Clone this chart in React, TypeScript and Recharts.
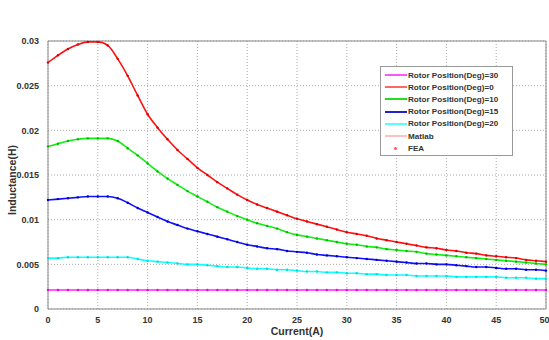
import React from 'react';
import { LineChart, Line, XAxis, YAxis, CartesianGrid, Legend, ReferenceLine } from 'recharts';

const current = [0,1,2,3,4,5,6,7,8,9,10,11,12,13,14,15,16,17,18,19,20,21,22,23,24,25,26,27,28,29,30,31,32,33,34,35,36,37,38,39,40,41,42,43,44,45,46,47,48,49,50];

const deg0 = [0.0276,0.0284,0.0291,0.0296,0.0299,0.0299,0.0295,0.0280,0.0261,0.0239,0.0218,0.0203,0.0190,0.0178,0.0168,0.0158,0.0150,0.0142,0.0135,0.0128,0.0122,0.0117,0.0113,0.0109,0.0105,0.0101,0.0098,0.0095,0.0092,0.0089,0.0086,0.0084,0.0082,0.0079,0.0077,0.0075,0.0073,0.0071,0.0069,0.0068,0.0066,0.0065,0.0063,0.0062,0.0060,0.0059,0.0058,0.0057,0.0055,0.0054,0.0053];

const deg10 = [0.0182,0.0185,0.0188,0.0190,0.0191,0.0191,0.0191,0.0188,0.0180,0.0172,0.0163,0.0154,0.0146,0.0139,0.0132,0.0126,0.0120,0.0114,0.0109,0.0104,0.0100,0.0096,0.0093,0.0090,0.0086,0.0083,0.0081,0.0079,0.0077,0.0075,0.0073,0.0072,0.0070,0.0069,0.0067,0.0066,0.0065,0.0064,0.0062,0.0061,0.0060,0.0059,0.0058,0.0057,0.0056,0.0055,0.0054,0.0053,0.0052,0.0051,0.0050];

const deg15 = [0.0122,0.0123,0.0124,0.0125,0.0126,0.0126,0.0126,0.0124,0.0119,0.0113,0.0108,0.0103,0.0098,0.0094,0.0090,0.0087,0.0084,0.0081,0.0078,0.0075,0.0072,0.0070,0.0068,0.0067,0.0065,0.0064,0.0063,0.0061,0.0060,0.0059,0.0058,0.0057,0.0056,0.0055,0.0054,0.0053,0.0052,0.0051,0.0051,0.0050,0.0050,0.0049,0.0048,0.0047,0.0047,0.0046,0.0045,0.0045,0.0044,0.0044,0.0043];

const deg20 = [0.0057,0.0057,0.0058,0.0058,0.0058,0.0058,0.0058,0.0058,0.0058,0.0056,0.0054,0.0053,0.0052,0.0051,0.0050,0.0050,0.0049,0.0048,0.0047,0.0047,0.0046,0.0045,0.0045,0.0044,0.0044,0.0043,0.0042,0.0042,0.0041,0.0041,0.0040,0.0040,0.0039,0.0039,0.0038,0.0038,0.0038,0.0037,0.0037,0.0037,0.0037,0.0036,0.0036,0.0036,0.0036,0.0036,0.0035,0.0035,0.0035,0.0034,0.0034];

const deg30 = [0.00213,0.00213,0.00213,0.00213,0.00213,0.00213,0.00213,0.00213,0.00213,0.00213,0.00213,0.00213,0.00213,0.00213,0.00213,0.00213,0.00213,0.00213,0.00213,0.00213,0.00213,0.00213,0.00213,0.00213,0.00213,0.00213,0.00213,0.00213,0.00213,0.00213,0.00213,0.00213,0.00213,0.00213,0.00213,0.00213,0.00213,0.00213,0.00213,0.00213,0.00213,0.00213,0.00213,0.00213,0.00213,0.00213,0.00213,0.00213,0.00213,0.00213,0.00213];

const xTicks = [0,5,10,15,20,25,30,35,40,45,50];
const yTicks = [0,0.005,0.01,0.015,0.02,0.025,0.03];

const legendItems = [
  { label: 'Rotor Position(Deg)=30', color: '#ff55ff', kind: 'line' },
  { label: 'Rotor Position(Deg)=0', color: '#ff6666', kind: 'line' },
  { label: 'Rotor Position(Deg)=10', color: '#22dd22', kind: 'line' },
  { label: 'Rotor Position(Deg)=15', color: '#2222cc', kind: 'line' },
  { label: 'Rotor Position(Deg)=20', color: '#55ffff', kind: 'line' },
  { label: 'Matlab', color: '#ffc0c0', kind: 'line' },
  { label: 'FEA', color: '#ff5555', kind: 'dot' },
];

const data = current.map((c, i) => ({
  x: c,
  d30: deg30[i],
  d0: deg0[i],
  d10: deg10[i],
  d15: deg15[i],
  d20: deg20[i],
}));

const font = '"Liberation Sans", Arial, sans-serif';

const LegendBox = () => (
  <div
    style={{
      width: 131,
      height: 86,
      background: '#fff',
      border: '1px solid #999',
      fontFamily: font,
      fontWeight: 'bold',
      fontSize: 8.1,
      color: '#333',
      boxSizing: 'content-box',
      paddingTop: 2,
    }}
  >
    {legendItems.map((it) => (
      <div key={it.label} style={{ display: 'flex', alignItems: 'center', height: 12.2, whiteSpace: 'nowrap' }}>
        <div style={{ width: 27, display: 'flex', justifyContent: 'center', alignItems: 'center' }}>
          {it.kind === 'line' ? (
            <div style={{ width: 22, height: 2, background: it.color, marginLeft: 2 }} />
          ) : (
            <div style={{ width: 3, height: 3, borderRadius: 2, background: it.color, marginLeft: 2 }} />
          )}
        </div>
        <span>{it.label}</span>
      </div>
    ))}
  </div>
);

const series = [
  { key: 'd30', color: '#ff22ff', dot: '#ee00ee' },
  { key: 'd0', color: '#ff1111', dot: '#dd0000' },
  { key: 'd10', color: '#11ee11', dot: '#00bb00' },
  { key: 'd15', color: '#1111ff', dot: '#0000cc' },
  { key: 'd20', color: '#11ffff', dot: '#00dddd' },
];

export default function App() {
  return (
    <div style={{ position: 'absolute', left: 0, top: 0, width: 549, height: 340, background: '#fff' }}>
      <LineChart width={549} height={340} data={data} margin={{ top: 41, right: 3, bottom: 6, left: 8 }}>
        <CartesianGrid stroke="#aaa" strokeDasharray="1 2" />
        <XAxis
          dataKey="x"
          type="number"
          domain={[0, 50]}
          ticks={xTicks}
          height={25}
          stroke="#888"
          tickLine={false}
          tick={{ fill: '#333', fontSize: 9, fontWeight: 'bold', fontFamily: font }}
          tickMargin={2}
          label={{ value: 'Current(A)', position: 'insideBottom', offset: -1, fill: '#333', fontSize: 10.5, fontWeight: 'bold', fontFamily: font }}
        />
        <YAxis
          type="number"
          domain={[0, 0.03]}
          ticks={yTicks}
          width={40}
          stroke="#888"
          tickLine={false}
          tick={{ fill: '#333', fontSize: 9, fontWeight: 'bold', fontFamily: font }}
          tickMargin={3}
          label={{ value: 'Inductance(H)', angle: -90, position: 'insideLeft', offset: 4, dy: 40, fill: '#333', fontSize: 10.5, fontWeight: 'bold', fontFamily: font }}
        />
        <ReferenceLine y={0.03} stroke="#888" />
        <ReferenceLine x={50} stroke="#888" />
        {series.map((s) => (
          <Line
            key={s.key}
            dataKey={s.key}
            type="monotone"
            stroke={s.color}
            strokeWidth={1.6}
            dot={{ r: 1.2, fill: s.dot, stroke: 'none' }}
            isAnimationActive={false}
          />
        ))}
        <Legend
          layout="vertical"
          align="center"
          verticalAlign="middle"
          content={() => <LegendBox />}
          wrapperStyle={{ position: 'absolute', left: 380, top: 66, width: 133 }}
        />
      </LineChart>
    </div>
  );
}
